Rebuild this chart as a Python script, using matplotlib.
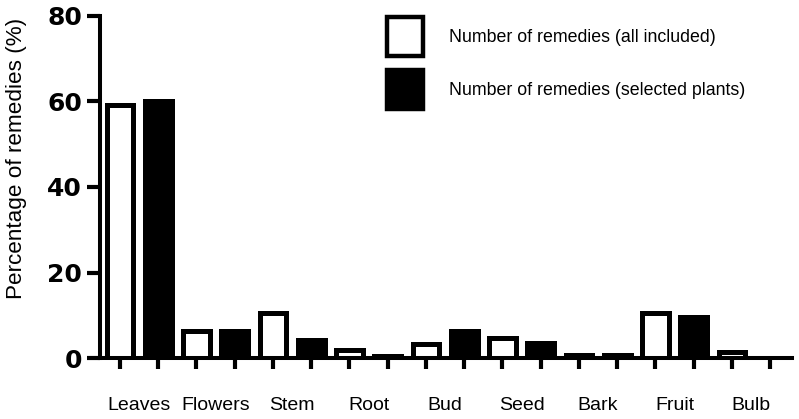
import numpy as np
import matplotlib
matplotlib.use("Agg")
import matplotlib.pyplot as plt
from matplotlib.patches import Patch

plt.rcParams['font.family'] = ['Liberation Sans', 'DejaVu Sans']

parts = ["Leaves", "Flowers", "Stem", "Root", "Bud", "Seed", "Bark", "Fruit", "Bulb"]
all_included = [59.1, 6.3, 10.5, 1.8, 3.3, 4.6, 0.6, 10.6, 1.3]
selected_plants = [60.0, 6.4, 4.1, 0.4, 6.4, 3.4, 0.8, 9.7, 0.0]
series_names = ["Number of remedies (all included)", "Number of remedies (selected plants)"]
yticks = [0, 20, 40, 60, 80]

fig = plt.figure(figsize=(7.99, 4.19), dpi=100)
ax = fig.add_axes([100 / 799, 61 / 419, 692 / 799, 342 / 419])

pos = np.arange(len(parts)) * 2
lw = 3.6
ax.bar(pos, all_included, width=0.70, facecolor="white", edgecolor="black", linewidth=lw)
ax.bar(pos + 1, selected_plants, width=0.70, facecolor="black", edgecolor="black", linewidth=lw)

ax.set_xlim(-0.52, 17.57)
ax.set_ylim(0, 80)
ax.set_yticks(yticks)
ax.set_yticklabels([str(v) for v in yticks], fontsize=18, fontweight="bold",
                   family="DejaVu Sans")

# one tick under every bar, category names between each pair
ax.set_xticks(np.arange(len(parts) * 2))
ax.set_xticklabels([])
ax.set_xticks(pos + 0.5, minor=True)
ax.set_xticklabels(parts, minor=True, fontsize=14)
ax.tick_params(axis="x", which="major", direction="out", length=8, width=3)
ax.tick_params(axis="x", which="minor", length=0, pad=28)
ax.tick_params(axis="y", direction="out", length=9.5, width=3, pad=3.5)

for s in ["top", "right"]:
    ax.spines[s].set_visible(False)
for s in ["left", "bottom"]:
    ax.spines[s].set_linewidth(2.9)

fig.text(17 / 799, 1 - 158 / 419, "Percentage of remedies (%)", rotation=90,
         ha="center", va="center", fontsize=16.2)

handles = [Patch(facecolor="white", edgecolor="black", linewidth=3.2),
           Patch(facecolor="black", edgecolor="black", linewidth=3.2)]
fig.legend(handles, series_names, loc="upper left",
           bbox_to_anchor=(387 / 799, 1 - 17 / 419), frameon=False,
           fontsize=12.8, handlelength=2.05, handleheight=3.0,
           handletextpad=1.45, labelspacing=0.8, borderpad=0, borderaxespad=0)

fig.savefig("out.png", dpi=100)
